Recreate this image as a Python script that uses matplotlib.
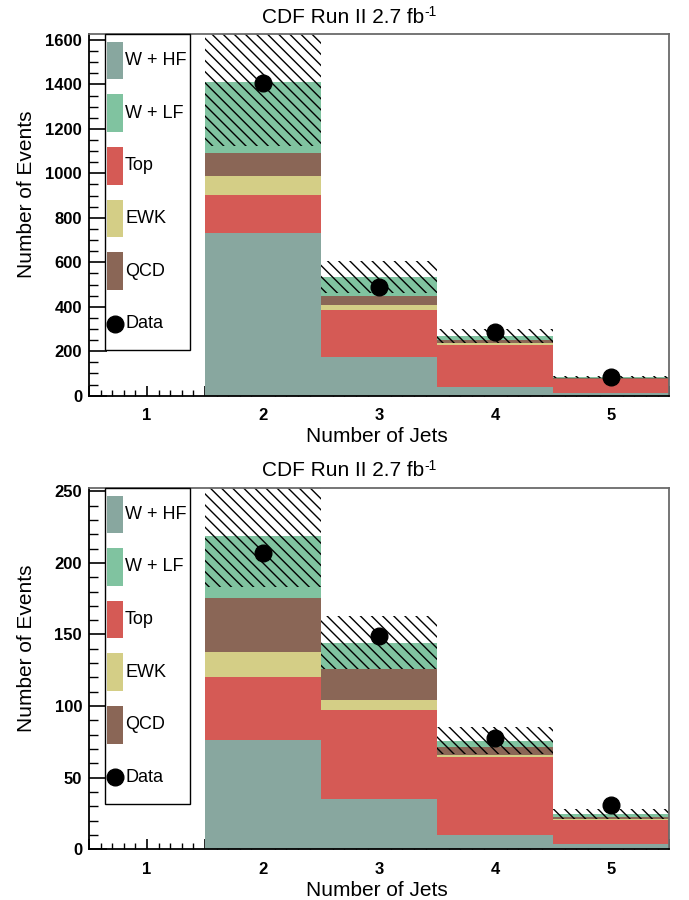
import matplotlib
matplotlib.use('Agg')
import matplotlib.pyplot as plt
from matplotlib.ticker import MultipleLocator, FuncFormatter
from matplotlib.patches import Rectangle
import numpy as np

plt.rcParams['font.family'] = ['Liberation Sans', 'DejaVu Sans']
plt.rcParams['hatch.linewidth'] = 1.0

# jet bins
n_jets = [1, 2, 3, 4, 5]

# upper panel
top_hf = [0, 733, 175, 40, 11]
top_top = [0, 170, 210, 188, 63]
top_ewk = [0, 85, 23, 8, 1]
top_qcd = [0, 105, 42, 15, 3]
top_lf = [0, 320, 85, 18, 7]
top_err = [0, 291, 72, 30, 4]
top_data = [0, 1405, 490, 285, 83]

# lower panel
bot_hf = [0, 76, 35, 10, 3.7]
bot_top = [0, 44.5, 62, 54.7, 16.8]
bot_ewk = [0, 17.5, 7.5, 1.2, 0.7]
bot_qcd = [0, 37.7, 21.4, 5.7, 1.6]
bot_lf = [0, 43.3, 18.2, 4.2, 1.9]
bot_err = [0, 35.6, 18.5, 9.4, 3.2]
bot_data = [0, 207, 149, 77.5, 31]

colors = {'W + HF': '#88a79f', 'W + LF': '#80c3a0', 'Top': '#d55a55',
          'EWK': '#d4ce86', 'QCD': '#8a6656'}
stack_order = ['W + HF', 'Top', 'EWK', 'QCD', 'W + LF']
legend_order = ['W + HF', 'W + LF', 'Top', 'EWK', 'QCD']

W, H = 689, 900
fig = plt.figure(figsize=(W / 100, H / 100), dpi=100)


def panel(rect_px, comps, err, data, ymax, ymajor, yminor):
    l, t, r, b = rect_px
    ax = fig.add_axes([l / W, 1 - b / H, (r - l) / W, (b - t) / H])
    ax_h = b - t
    ax_w = r - l
    x = np.array(n_jets, dtype=float)
    bottom = np.zeros(len(x))
    for name in stack_order:
        vals = np.array(comps[name], dtype=float)
        ax.bar(x, vals, bottom=bottom, width=1.0, color=colors[name], linewidth=0, zorder=2)
        bottom += vals
    err = np.array(err, dtype=float)
    ax.bar(x, 2 * err, bottom=bottom - err, width=1.0, fill=False, hatch='\\\\\\',
           edgecolor='black', linewidth=0, zorder=3)
    d = np.array(data, dtype=float)
    m = d > 0
    ax.plot(x[m], d[m], 'o', color='black', ms=12, zorder=5)

    ax.set_xlim(0.5, 5.5)
    ax.set_ylim(0, ymax)
    ax.xaxis.set_major_locator(MultipleLocator(0.5))
    ax.xaxis.set_minor_locator(MultipleLocator(0.1))
    ax.xaxis.set_major_formatter(FuncFormatter(
        lambda v, p: '%d' % round(v) if abs(v - round(v)) < 1e-6 else ''))
    ax.yaxis.set_major_locator(MultipleLocator(ymajor))
    ax.yaxis.set_minor_locator(MultipleLocator(yminor))
    ax.tick_params(axis='both', which='both', direction='in', top=False, right=False)
    ax.tick_params(axis='y', which='major', length=13, width=1.2, pad=5, labelsize=12)
    ax.tick_params(axis='y', which='minor', length=6.5, width=1.0)
    ax.tick_params(axis='x', which='major', length=7.5, width=1.2, pad=9, labelsize=12)
    ax.tick_params(axis='x', which='minor', length=4, width=1.0)
    for lab in ax.get_xticklabels() + ax.get_yticklabels():
        lab.set_fontweight('bold')
    for s in ['left', 'bottom']:
        ax.spines[s].set_color('black')
        ax.spines[s].set_linewidth(1.3)
    for s in ['top', 'right']:
        ax.spines[s].set_color('#6a6a6a')
        ax.spines[s].set_linewidth(1.3)
    for sp in ax.spines.values():
        sp.set_zorder(6)

    ax.set_ylabel('Number of Events', fontsize=15)
    ax.yaxis.set_label_coords((26 - l) / ax_w, (b - (t + 160)) / ax_h)
    ax.yaxis.label.set_va('center')
    ax.set_xlabel('Number of Jets', fontsize=15)
    ax.xaxis.set_label_coords((377 - l) / ax_w, -41 / ax_h)
    ax.xaxis.label.set_va('center')
    # title with a plain-hyphen superscript, as in the original
    fig.text(424 / W, 1 - (t - 17) / H, 'CDF Run II 2.7 fb', fontsize=15,
             ha='right', va='center')
    fig.text(424.5 / W, 1 - (t - 22) / H, '-1', fontsize=10,
             ha='left', va='center')

    # legend box (drawn by hand, ROOT style)
    fx = lambda px: (px - l) / ax_w
    fy = lambda px: 1 - px / ax_h
    ax.add_patch(Rectangle((fx(104.5), fy(316)), fx(189.5) - fx(104.5), 316 / ax_h,
                           transform=ax.transAxes, facecolor='white', edgecolor='black',
                           linewidth=1.0, zorder=7, clip_on=False))
    for k, name in enumerate(legend_order + ['Data']):
        yc = 26.3 + 52.6 * k
        if name == 'Data':
            ax.plot([fx(115)], [fy(yc)], 'o', color='black', ms=12,
                    transform=ax.transAxes, zorder=8, clip_on=False)
        else:
            ax.add_patch(Rectangle((fx(107), fy(yc + 18.8)), fx(123) - fx(107), 37.6 / ax_h,
                                   transform=ax.transAxes, facecolor=colors[name],
                                   linewidth=0, zorder=8, clip_on=False))
        ax.text(fx(125), fy(yc), name, transform=ax.transAxes, fontsize=13,
                va='center', ha='left', zorder=9)
    return ax


panel((89, 34.3, 669.3, 395.7),
      {'W + HF': top_hf, 'Top': top_top, 'EWK': top_ewk, 'QCD': top_qcd, 'W + LF': top_lf},
      top_err, top_data, 1625.6, 200, 50)
panel((89, 488, 669.3, 849.3),
      {'W + HF': bot_hf, 'Top': bot_top, 'EWK': bot_ewk, 'QCD': bot_qcd, 'W + LF': bot_lf},
      bot_err, bot_data, 252.3, 50, 10)

fig.savefig('out.png', dpi=100)
